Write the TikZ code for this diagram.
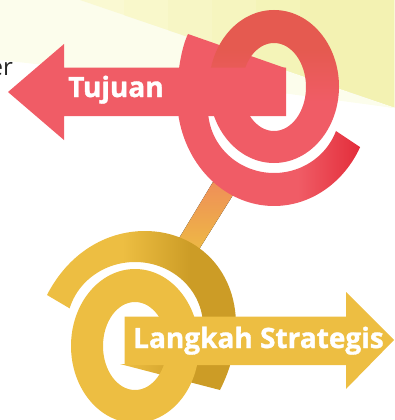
\documentclass[tikz,border=0pt]{standalone}
\usepackage{fontspec}
\setmainfont{Open Sans}
\newfontfamily\plainfont{Open Sans}
\newfontfamily\labelfont{Open Sans}[BoldFeatures={FakeBold=1.2}]
\definecolor{redmain}{HTML}{F05C66}
\definecolor{reddeep}{HTML}{E32D3A}
\definecolor{redtop}{HTML}{E55A50}
\definecolor{yelmain}{HTML}{EDBE42}
\definecolor{yeldeep}{HTML}{CC9C26}
\definecolor{bandleft}{HTML}{FAF9D2}
\definecolor{bandright}{HTML}{F3F2B2}
\definecolor{paletop}{HTML}{FCFDEA}
\definecolor{stemtop}{HTML}{EF8F58}
\pgfdeclarehorizontalshading{redarcsh}{100bp}{color(0bp)=(redmain); color(25bp)=(redmain); color(58bp)=(redmain); color(75bp)=(reddeep); color(100bp)=(reddeep)}
\pgfdeclareverticalshading{redringsh}{100bp}{color(0bp)=(redmain); color(25bp)=(redmain); color(45bp)=(redmain); color(62bp)=(redtop); color(75bp)=(redtop); color(100bp)=(redtop)}
\pgfdeclarehorizontalshading{yelarcsh}{100bp}{color(0bp)=(yelmain); color(25bp)=(yelmain); color(45bp)=(yelmain); color(63bp)=(yeldeep); color(75bp)=(yeldeep); color(100bp)=(yeldeep)}
\tikzset{
  labeltext/.style={text=white,font=\labelfont\bfseries\fontsize{28}{28}\selectfont,inner sep=0pt,anchor=base west},
  curve/.style={samples=70,smooth},
}
\begin{document}
\begin{tikzpicture}[x=1pt,y=-1pt]
\useasboundingbox (0,0) rectangle (394,420);
\clip (0,0) rectangle (394,420);
% background: pale wash, fading downwards in nested plain layers
\foreach \k/\e in {15/60,30/50,45/40,60/30,75/20,90/10}{
  \fill[paletop!\k!white] (0,0) -- (394,0) -- (394,108) -- (230,{80-\e*0.4+10}) -- (0,{70-\e}) -- cycle;
}
% background: yellow band, getting stronger to the right in nested plain layers
\foreach \k/\s in {0/0,20/0.2,40/0.4,60/0.6,80/0.8,100/1}{
  \pgfmathsetmacro{\xs}{80+\s*220}
  \pgfmathsetmacro{\ys}{(\xs-80)*0.3408}
  \fill[bandright!\k!bandleft] (\xs,\ys) -- (\xs,0) -- (394,0) -- (394,107) -- cycle;
}
\node[font=\plainfont\fontsize{24}{24}\selectfont,text=black!85,inner sep=0pt,anchor=base east] (cut) at (13,75) {er};
% stem
\fill[top color=stemtop,bottom color=yelmain] (213,182) -- (233,195) -- (193,259) -- (172,250) -- cycle;
% red arc
\path[shading=redarcsh] (188,34)
  .. controls (182,46) and (177,72) .. (177,97)
  -- plot[curve,domain=180:27.4] ({274+97*cos(\x)},{97+109*sin(\x)})
  -- (336,131)
  -- plot[curve,domain=20:180] ({274+66*cos(\x)},{109+64*sin(\x)})
  -- (208,68) -- (285,68) -- cycle;
% red ring
\path[even odd rule,shading=redringsh]
  (274,86.5) ellipse[x radius=65,y radius=76.5]
  (274,87) ellipse[x radius=32,y radius=44];
% red arrow
\fill[redmain] (8,92) -- (64,44) -- (64,67.5) -- (286,67.5) -- (286,116) -- (64,116) -- (64,140) -- cycle;
\node[labeltext] (goal) at (68,97) {Tujuan};
% yellow arc
\path[shading=yelarcsh] (47,295)
  .. controls (68,254) and (105,231) .. (145,231)
  .. controls (195,231) and (236,268) .. (236,325)
  .. controls (236,348) and (231,368) .. (220,390)
  -- (120,364) -- (203,364) -- (203,326)
  -- plot[curve,domain=0:-164] ({135+68*cos(\x)},{326+64*sin(\x)})
  -- cycle;
% yellow ring
\fill[even odd rule,yelmain]
  (135,346) ellipse[x radius=64,y radius=77]
  (135,346) ellipse[x radius=32,y radius=44];
% yellow arrow
\fill[yelmain] (394,340) -- (346,292) -- (346,316.5) -- (124.5,316.5) -- (124.5,365) -- (346,365) -- (346,389) -- cycle;
\node[labeltext] (steps) at (133,348) {Langkah Strategis};
\end{tikzpicture}
\end{document}
